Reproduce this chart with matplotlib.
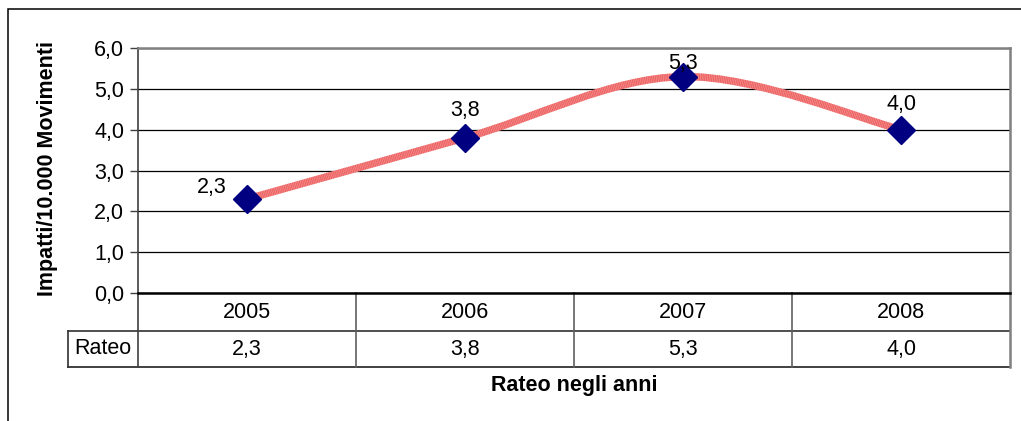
import matplotlib
matplotlib.use('Agg')
import matplotlib.pyplot as plt
from matplotlib.path import Path
from matplotlib.patches import PathPatch, Rectangle
from matplotlib.lines import Line2D

# Data
years = ['2005', '2006', '2007', '2008']
rateo = [2.3, 3.8, 5.3, 4.0]
yticks = [0, 1, 2, 3, 4, 5, 6]
row_label = 'Rateo'
y_title = 'Impatti/10.000 Movimenti'
x_title = 'Rateo negli anni'

# Offsets (pixels) of the value labels relative to their markers
label_offsets = [(-35, 12), (0, 27), (0, 13), (0, 25)]


def fmt(v):
    return f'{v:.1f}'.replace('.', ',')


plt.rcParams['font.family'] = ['Liberation Sans', 'DejaVu Sans']
FS = 15.5

W, H = 1021, 421
fig = plt.figure(figsize=(W / 100, H / 100), dpi=100)
fig.patch.set_facecolor('white')

# Chart-area frame (runs off the right and bottom edges)
fig.patches.append(Rectangle((8 / W, -0.2), 1.2, 1.2 - 9 / H,
                             transform=fig.transFigure, fill=False,
                             edgecolor='black', lw=1.1))

ax = fig.add_axes([138 / W, 1 - 293 / H, 872 / W, 245 / H])
xs = list(range(len(years)))
ax.set_xlim(-0.5, len(years) - 0.5)
ax.set_ylim(0, 6)

# Gridlines and axes frame
ax.set_yticks(yticks)
ax.set_yticklabels([fmt(v) for v in yticks], fontsize=FS)
ax.yaxis.grid(True, color='black', lw=0.9)
ax.set_axisbelow(True)
ax.set_xticks([])
ax.tick_params(axis='y', direction='out', length=6, width=1, color='#404040', pad=4)
ax.spines['top'].set_color('#808080')
ax.spines['top'].set_linewidth(1.8)
ax.spines['right'].set_color('#808080')
ax.spines['right'].set_linewidth(1.8)
ax.spines['left'].set_color('#404040')
ax.spines['left'].set_linewidth(1.2)
ax.spines['bottom'].set_color('black')
ax.spines['bottom'].set_linewidth(1.8)

# Smoothed line through the points (cubic Bezier segments)
pts = list(zip(xs, rateo))
n = len(pts)
verts = [pts[0]]
codes = [Path.MOVETO]
for i in range(n - 1):
    p0 = pts[max(i - 1, 0)]
    p1 = pts[i]
    p2 = pts[i + 1]
    p3 = pts[min(i + 2, n - 1)]
    c1 = (p1[0] + (p2[0] - p0[0]) / 6, p1[1] + (p2[1] - p0[1]) / 6)
    c2 = (p2[0] - (p3[0] - p1[0]) / 6, p2[1] - (p3[1] - p1[1]) / 6)
    verts += [c1, c2, p2]
    codes += [Path.CURVE4] * 3
smooth = Path(verts, codes)
ax.add_patch(PathPatch(smooth, facecolor='none', edgecolor='#f38a8a',
                       lw=5.3, capstyle='butt', zorder=3))
ax.add_patch(PathPatch(smooth, facecolor='none', edgecolor='#e83a3a',
                       lw=5.3, capstyle='butt', linestyle=(0, (0.12, 0.12)),
                       alpha=0.55, zorder=3))

ax.plot(xs, rateo, linestyle='none', marker='D', ms=14,
        mfc='#000080', mec='#000080', zorder=4)

for x, v, (dx, dy) in zip(xs, rateo, label_offsets):
    ax.annotate(fmt(v), (x, v), xytext=(dx, dy), textcoords='offset pixels',
                ha='center', va='center', fontsize=FS, zorder=5)

# Data table under the plot
tr = ax.get_xaxis_transform()
r1 = -38 / 245
r2 = -74 / 245
left_cell = -0.5 - 70 / 218
xr = len(years) - 0.5
line_kw = dict(transform=tr, clip_on=False)
ax.add_line(Line2D([left_cell, xr], [r1, r1], color='#303030', lw=1.2, **line_kw))
ax.add_line(Line2D([left_cell, xr], [r2, r2], color='#202020', lw=1.2, **line_kw))
ax.add_line(Line2D([left_cell, left_cell], [r1, r2], color='#303030', lw=1.2, **line_kw))
ax.add_line(Line2D([-0.5, -0.5], [0, r2], color='#404040', lw=1.2, **line_kw))
for b in [i + 0.5 for i in range(len(years) - 1)]:
    ax.add_line(Line2D([b, b], [0, r2], color='#606060', lw=1.2, **line_kw))
ax.add_line(Line2D([xr, xr], [0, r2], color='#808080', lw=1.8, **line_kw))

for x, yr, v in zip(xs, years, rateo):
    ax.text(x, r1 / 2, yr, transform=tr, ha='center', va='center', fontsize=FS)
    ax.text(x, (r1 + r2) / 2, fmt(v), transform=tr, ha='center', va='center', fontsize=FS)
ax.text((left_cell - 0.5) / 2, (r1 + r2) / 2, row_label, transform=tr,
        ha='center', va='center', fontsize=FS)

# Axis titles
fig.text(47 / W, 1 - 169 / H, y_title, rotation=90, ha='center', va='center',
         fontsize=FS, fontweight='bold')
fig.text(574 / W, 1 - 385 / H, x_title, ha='center', va='center',
         fontsize=FS, fontweight='bold')

fig.savefig('out.png', dpi=100, facecolor='white')
